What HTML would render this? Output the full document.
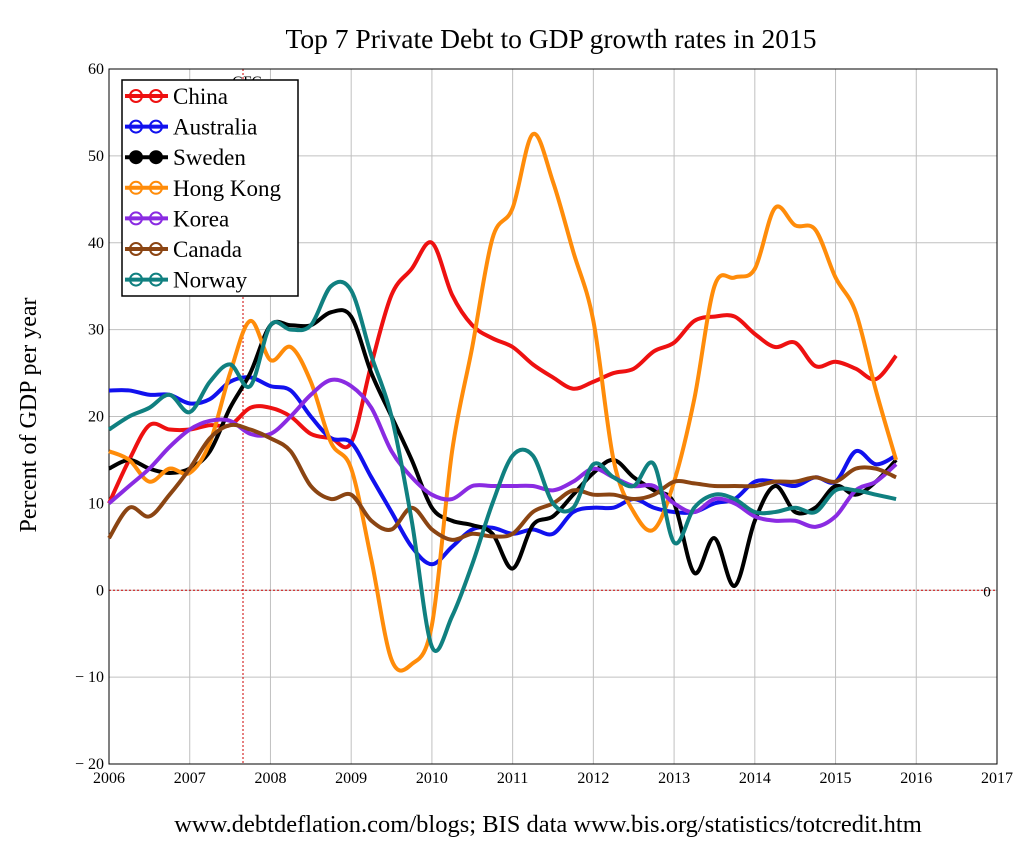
<!DOCTYPE html>
<html><head><meta charset="utf-8"><style>
body{margin:0;background:#fff}
svg text{font-family:"Liberation Serif",serif;fill:#000}
</style></head><body>
<svg width="1036" height="848">
<g id="grid"></g>
<g id="series"></g>
<g id="legend"></g>
</svg>
<script>
const years=[2006,2007,2008,2009,2010,2011,2012,2013,2014,2015,2016,2017];
const yTicks=[60,50,40,30,20,10,0,-10,-20];
const seriesNames=["China","Australia","Sweden","Hong Kong","Korea","Canada","Norway"];
const seriesColors=["#ee1111","#1111ee","#000000","#ff8c0a","#8a2be2","#8b4513","#108080"];
const china=[10,15,19,18.5,18.5,19,19,21,21,20,18,17.5,17,26,34,37,40,34,30.5,29,28,26,24.5,23.2,24,25,25.5,27.5,28.5,31,31.5,31.5,29.5,28,28.5,25.8,26.3,25.5,24.3,27];
const australia=[23,23,22.5,22.5,21.5,22,24,24.5,23.5,23,20,17.5,17,13,9,5,3,5,7,7.2,6.5,7,6.5,9,9.5,9.5,10.5,9.5,9,9,10,10.5,12.5,12.5,12,13,12.5,16,14.5,15.5];
const sweden=[14,15,14,13.5,14,16,21,25,30.5,30.5,30.5,32,31.5,25,20,15,9.5,8,7.5,6.5,2.5,7.5,8.5,11,13.5,15,13,11.5,10,2,6,0.5,8,12,9,9.5,12,11,12.5,15];
const hongKong=[16,15,12.5,14,13.5,17,25,31,26.5,28,24,17,14,3.5,-8,-8.5,-4,16,28,40.5,44,52.5,47,39,31,15,9,7,12.5,22,35,36,37,44,42,41.5,36,32,23,15];
const korea=[10,12,14,16.5,18.5,19.5,19.5,18,18,20,22.5,24.2,23.5,21,16,13,11,10.5,12,12,12,12,11.5,12.5,14,13,12,12,10,9,10.5,10,8.5,8,8,7.3,8.5,11.5,12.5,14.5];
const canada=[6,9.5,8.5,11,14,17.5,19,18.5,17.5,16,12,10.5,11,8,7,9.5,7,5.8,6.5,6.2,6.5,9,10,11.5,11,11,10.5,11,12.5,12.3,12,12,12,12.5,12.5,13,12.5,14,14,13];
const norway=[18.5,20,21,22.5,20.5,24,26,23.5,30.5,30,30.5,35,34.5,27,20,8,-6.5,-3,3,10,15.5,15.5,10,9.5,14.5,13,12,14.5,5.5,9.5,11,10.5,9,9,9.5,9,11.5,11.5,11,10.5];
const allSeries=[china,australia,sweden,hongKong,korea,canada,norway];
const X0=109,X1=997,Y0=69,Y1=764;
const xs=t=>X0+(t-2006)*(X1-X0)/11;
const ys=v=>Y0+(60-v)*(Y1-Y0)/80;
const NS="http://www.w3.org/2000/svg";
function mk(tag,attrs,parent,text){const e=document.createElementNS(NS,tag);for(const k in attrs)e.setAttribute(k,attrs[k]);if(text!==undefined)e.textContent=text;parent.appendChild(e);return e;}
const svg=document.querySelector('svg'),grid=document.getElementById('grid'),ser=document.getElementById('series'),leg=document.getElementById('legend');
const title=mk('text',{x:551,y:48,'font-size':27.5,'text-anchor':'middle'},svg,"Top 7 Private Debt to GDP growth rates in 2015");


const yt=mk('text',{x:36,y:415,'font-size':24,'text-anchor':'middle',transform:'rotate(-90 36 415)'},svg,"Percent of GDP per year");


const ft=mk('text',{x:548,y:832,'font-size':24.5,'text-anchor':'middle'},svg,"www.debtdeflation.com/blogs; BIS data www.bis.org/statistics/totcredit.htm");


years.forEach(y=>{const x=xs(y);
 const l=mk('line',{x1:x,x2:x,y1:Y0,y2:Y1,stroke:'#c0c0c0','stroke-width':1},grid);
 
 
 const t=mk('text',{x:x,y:783,'font-size':16,'text-anchor':'middle'},grid,y);
 
 });
yTicks.forEach(v=>{const y=ys(v);
 const l=mk('line',{x1:X0,x2:X1,y1:y,y2:y,stroke:'#c0c0c0','stroke-width':1},grid);
 
 
 const t=mk('text',{x:104,y:y+5,'font-size':16,'text-anchor':'end'},grid,v<0?"− "+(-v):v);
 
 });
const zl=mk('line',{x1:X0,x2:X1,y1:ys(0),y2:ys(0),stroke:'#cc0000','stroke-width':1,'stroke-dasharray':'2,2'},grid);


const zt=mk('text',{x:987,y:ys(0)+6,'font-size':15,'text-anchor':'middle'},grid,"0");


const gx=xs(2007.66);
const gl=mk('line',{x1:gx,x2:gx,y1:Y0,y2:Y1,stroke:'#cc0000','stroke-width':1,'stroke-dasharray':'2,2'},grid);


const gt=mk('text',{x:gx+4,y:86,'font-size':15,'text-anchor':'middle'},grid,"GFC");


const fr=mk('rect',{x:X0,y:Y0,width:X1-X0,height:Y1-Y0,fill:'none',stroke:'#000','stroke-width':1},grid);


function smooth(pts){let d=`M${pts[0][0]},${pts[0][1]}`;for(let i=0;i<pts.length-1;i++){const p0=pts[Math.max(i-1,0)],p1=pts[i],p2=pts[i+1],p3=pts[Math.min(i+2,pts.length-1)];
 d+=` C${p1[0]+(p2[0]-p0[0])/6},${p1[1]+(p2[1]-p0[1])/6} ${p2[0]-(p3[0]-p1[0])/6},${p2[1]-(p3[1]-p1[1])/6} ${p2[0]},${p2[1]}`;}return d;}
allSeries.forEach((s,i)=>{const pts=s.map((v,j)=>[xs(2006+j*0.25),ys(v)]);
 const p=mk('path',{d:smooth(pts),fill:'none',stroke:seriesColors[i],'stroke-width':4,'stroke-linejoin':'round'},ser);
 
 });
const lb=mk('rect',{x:122,y:80,width:176,height:216,fill:'#fff',stroke:'#000','stroke-width':1.5},leg);


seriesNames.forEach((n,i)=>{const y=96+i*30.6;
 const g=mk('g',{},leg);
 
 
 mk('line',{x1:125,x2:168,y1:y,y2:y,stroke:seriesColors[i],'stroke-width':4},g);
 mk('circle',{cx:136,cy:y,r:6,fill:i==2?'#000':'none',stroke:seriesColors[i],'stroke-width':2},g);
 mk('circle',{cx:156,cy:y,r:6,fill:i==2?'#000':'none',stroke:seriesColors[i],'stroke-width':2},g);
 mk('text',{x:173,y:y+8,'font-size':23},g,n);});
</script>
</body></html>
